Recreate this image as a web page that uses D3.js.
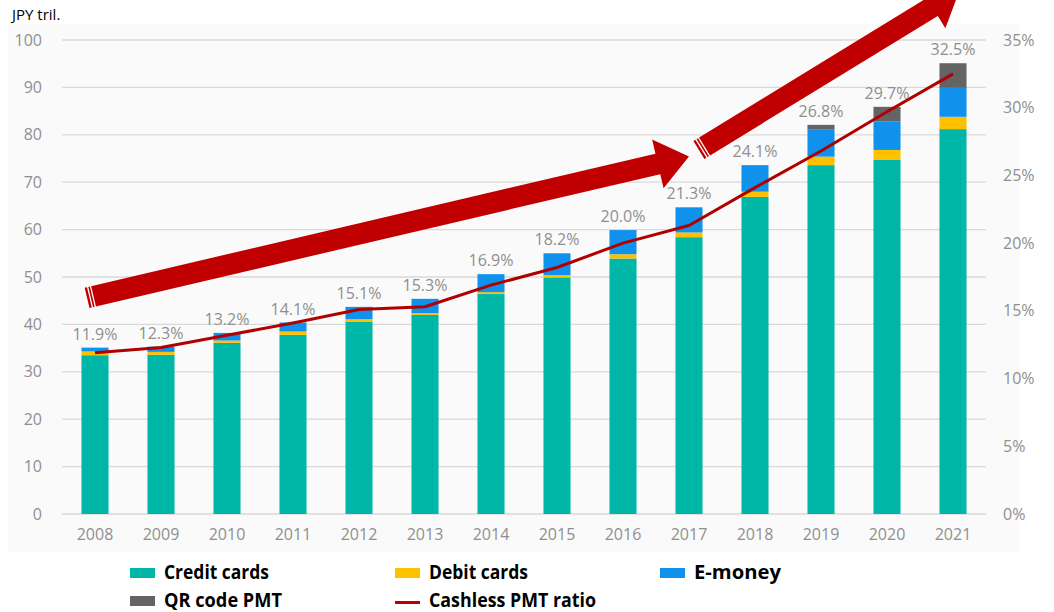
<!DOCTYPE html>
<html lang="en-US">
<head>
  <meta charset="utf-8">
  <script src="https://d3js.org/d3.v7.min.js"></script>
  <style>
    body { margin: 0; background: #fff; }
    text { font-family: "Open Sans", "Noto Sans", sans-serif; }
  </style>
</head>
<body>

<svg width="1054" height="612"></svg>

<script>
// data (JPY tril. / percent)
var years = ["2008","2009","2010","2011","2012","2013","2014","2015","2016","2017","2018","2019","2020","2021"];
var credit = [33.5, 33.6, 36.1, 37.8, 40.6, 42.0, 46.4, 49.9, 53.9, 58.4, 66.9, 73.6, 74.7, 81.2];
var debit  = [0.8, 0.6, 0.5, 0.7, 0.5, 0.4, 0.4, 0.5, 0.9, 1.0, 1.1, 1.8, 2.1, 2.6];
var emoney = [0.8, 1.1, 1.6, 1.9, 2.6, 3.0, 3.8, 4.6, 5.1, 5.3, 5.6, 5.8, 6.0, 6.1];
var qrcode = [0, 0, 0, 0, 0, 0, 0, 0, 0, 0, 0, 0.9, 3.1, 5.2];
var ratio  = [11.9, 12.3, 13.2, 14.1, 15.1, 15.3, 16.9, 18.2, 20.0, 21.3, 24.1, 26.8, 29.7, 32.5];
var leftTicks = [0, 10, 20, 30, 40, 50, 60, 70, 80, 90, 100];
var rightTicks = [0, 5, 10, 15, 20, 25, 30, 35];
// trend arrows, in (year index, JPY tril.) units
var arrows = [
  {from: [-0.12, 45.6], to: [9.0, 75.4]},
  {from: [9.15, 76.8], to: [13.1, 110.5]}
];

var series = [
  {name: "Credit cards", values: credit, color: "#00b6a6"},
  {name: "Debit cards", values: debit, color: "#ffc000"},
  {name: "E-money", values: emoney, color: "#1092ec"},
  {name: "QR code PMT", values: qrcode, color: "#646464"}
];

var svg = d3.select("svg");

var x = d3.scaleBand().domain(years).range([62, 986]).paddingInner(0.59).paddingOuter(0.295);
var y = d3.scaleLinear().domain([0, 100]).range([514, 40]);
var yR = d3.scaleLinear().domain([0, 35]).range([514, 40]);
var xi = d3.scaleLinear().domain([0, 1]).range([x(years[0]) + x.bandwidth() / 2, x(years[1]) + x.bandwidth() / 2]);

// plot background
svg.append("rect").attr("x", 8).attr("y", 24).attr("width", 1012).attr("height", 528).attr("fill", "#fafafa");

svg.append("text").attr("x", 12).attr("y", 20).attr("font-size", 15).attr("fill", "#000")
  .text("JPY tril.");

// grid
svg.append("g").selectAll("line").data(leftTicks).enter().append("line")
  .attr("x1", 62).attr("x2", 986)
  .attr("y1", d => y(d)).attr("y2", d => y(d))
  .attr("stroke", "#d9d9d9").attr("stroke-width", 1.3);

// left axis
var gl = svg.append("g").attr("transform", "translate(62,0)")
  .call(d3.axisLeft(y).tickValues(leftTicks).tickSize(0).tickPadding(20));
gl.select(".domain").remove();
gl.selectAll("text").attr("font-size", 16).attr("fill", "#8f8f8f").attr("font-family", "Open Sans");

// right axis
var gr = svg.append("g").attr("transform", "translate(986,0)")
  .call(d3.axisRight(yR).tickValues(rightTicks).tickSize(0).tickPadding(17).tickFormat(d => d + "%"));
gr.select(".domain").remove();
gr.selectAll("text").attr("font-size", 16).attr("fill", "#8f8f8f").attr("font-family", "Open Sans");

// bottom axis
var gb = svg.append("g").attr("transform", "translate(0,514)")
  .call(d3.axisBottom(x).tickSize(0).tickPadding(15));
gb.select(".domain").remove();
gb.selectAll("text").attr("font-size", 16).attr("fill", "#8f8f8f").attr("font-family", "Open Sans");

// stacked bars
var rows = years.map(function(yr, i) {
  var r = {year: yr};
  series.forEach(s => r[s.name] = s.values[i]);
  return r;
});
var stack = d3.stack().keys(series.map(s => s.name))(rows);
svg.append("g").selectAll("g").data(stack).enter().append("g")
  .attr("fill", (d, i) => series[i].color)
  .selectAll("rect").data(d => d).enter().append("rect")
  .attr("x", d => x(d.data.year))
  .attr("width", x.bandwidth())
  .attr("y", d => y(d[1]))
  .attr("height", d => Math.max(0, y(d[0]) - y(d[1])));

// arrows
function arrowPath(a) {
  var x0 = xi(a.from[0]), y0 = y(a.from[1]), x1 = xi(a.to[0]), y1 = y(a.to[1]);
  var dx = x1 - x0, dy = y1 - y0, len = Math.sqrt(dx * dx + dy * dy);
  var ux = dx / len, uy = dy / len, nx = -uy, ny = ux;
  var bw = 10.5, hw = 25, hl = 32;
  var bx = x1 - ux * hl, by = y1 - uy * hl;
  var pts = [
    [x0 + nx * bw, y0 + ny * bw], [bx + nx * bw, by + ny * bw], [bx + nx * hw, by + ny * hw],
    [x1, y1],
    [bx - nx * hw, by - ny * hw], [bx - nx * bw, by - ny * bw], [x0 - nx * bw, y0 - ny * bw]
  ];
  return {d: "M" + pts.map(p => p.join(",")).join("L") + "Z", x0: x0, y0: y0, ux: ux, uy: uy, nx: nx, ny: ny, bw: bw};
}
var ag = svg.append("g");
arrows.forEach(function(a) {
  var p = arrowPath(a);
  ag.append("path").attr("d", p.d).attr("fill", "#c00000");
  [3, 6].forEach(function(o) {
    ag.append("line")
      .attr("x1", p.x0 + p.ux * o + p.nx * (p.bw + 1)).attr("y1", p.y0 + p.uy * o + p.ny * (p.bw + 1))
      .attr("x2", p.x0 + p.ux * o - p.nx * (p.bw + 1)).attr("y2", p.y0 + p.uy * o - p.ny * (p.bw + 1))
      .attr("stroke", "#fff").attr("stroke-width", 1.3);
  });
});

// ratio line
var line = d3.line().x((d, i) => x(years[i]) + x.bandwidth() / 2).y(d => yR(d));
svg.append("path").datum(ratio).attr("d", line)
  .attr("fill", "none").attr("stroke", "#b00000").attr("stroke-width", 3).attr("stroke-linejoin", "round");

// ratio labels, sitting just above each bar
var totals = rows.map(r => series.reduce((s, k) => s + r[k.name], 0));
svg.append("g").selectAll("text").data(ratio).enter().append("text")
  .attr("x", (d, i) => x(years[i]) + x.bandwidth() / 2)
  .attr("y", (d, i) => y(totals[i]) - 8)
  .attr("text-anchor", "middle").attr("font-size", 16).attr("fill", "#8f8f8f")
  .text(d => d.toFixed(1) + "%");

// legend
var legendItems = [
  {name: "Credit cards", color: series[0].color, kind: "rect", lx: 130, ly: 573, w: 105},
  {name: "Debit cards", color: series[1].color, kind: "rect", lx: 395, ly: 573, w: 99},
  {name: "E-money", color: series[2].color, kind: "rect", lx: 660, ly: 573, w: 87},
  {name: "QR code PMT", color: series[3].color, kind: "rect", lx: 130, ly: 601, w: 118},
  {name: "Cashless PMT ratio", color: "#c00000", kind: "line", lx: 395, ly: 601, w: 167}
];
var lg = svg.append("g").selectAll("g").data(legendItems).enter().append("g")
  .attr("transform", d => "translate(" + d.lx + "," + d.ly + ")");
lg.filter(d => d.kind === "rect").append("rect")
  .attr("x", 0).attr("y", -5).attr("width", 25).attr("height", 10).attr("fill", d => d.color);
lg.filter(d => d.kind === "line").append("rect")
  .attr("x", 0).attr("y", 0).attr("width", 25).attr("height", 3).attr("fill", d => d.color);
lg.append("text").attr("x", 34).attr("y", 6)
  .attr("font-weight", "bold").attr("font-size", 19).attr("fill", "#000")
  .attr("textLength", d => d.w).attr("lengthAdjust", "spacingAndGlyphs")
  .text(d => d.name);
</script>
</body>
</html>
